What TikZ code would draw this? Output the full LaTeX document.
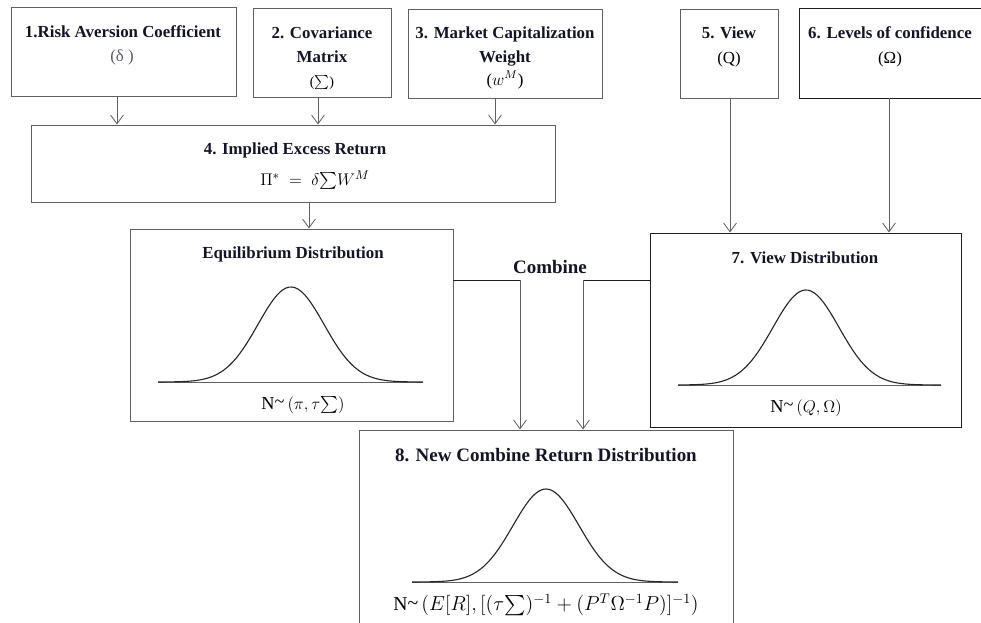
\documentclass[tikz,border=0pt]{standalone}
\usepackage{amsmath}
\usepackage{fontspec}
\setmainfont{Liberation Serif}
\usepackage{xcolor}
\definecolor{bxgray}{RGB}{95,95,95}
\definecolor{bxdark}{RGB}{30,30,30}
\definecolor{ttlnavy}{RGB}{20,20,40}
\definecolor{symgray}{RGB}{90,90,110}
\usepackage{tikz}
\usetikzlibrary{arrows.meta, positioning, calc}

% bell curve: center x, base y, left x, right x, height, sigma
\newcommand{\bellcurve}[6]{%
  \draw[bxgray, line width=0.6pt] (#3,#2) -- (#4,#2);
  \draw[black!85, line width=0.8pt] plot[domain=#3:#4, samples=90, smooth]
        (\x,{#2-#5*exp(-0.5*((\x-#1)/#6)^2)});}

\begin{document}
\begin{tikzpicture}[x=0.025cm, y=-0.025cm,
    box/.style={draw=bxgray, line width=0.7pt, inner sep=0pt},
    ttl/.style={font=\bfseries\fontsize{12}{14}\selectfont, text=ttlnavy, inner sep=0pt},
    sym/.style={font=\fontsize{12}{14}\selectfont, inner sep=0pt},
    arr/.style={-{Straight Barb[length=2.2mm, width=3.2mm]}, bxgray, line width=0.6pt},
    lnk/.style={bxdark, line width=0.7pt}]

\useasboundingbox (0,0) rectangle (981,623);
\clip (0,0) rectangle (981,623);

% --- Inputs ---
\node[box, minimum width=225*0.025cm, minimum height=89*0.025cm] (risk) at (123.5,51.5) {};
\node[ttl] (riskt) at (123,32) {1.Risk Aversion Coefficient};
\node[sym, text=symgray] (riskd) at (122,57) {(δ )};

\node[box, minimum width=138*0.025cm, minimum height=89*0.025cm] (cov) at (322,52.5) {};
\node[ttl] (covt) at (322,33) {2. Covariance};
\node[ttl] (covm) at (322,57) {Matrix};
\node[sym, font=\fontsize{10}{12}\selectfont] (covs) at (322,83) {($\sum$)};

\node[box, minimum width=194*0.025cm, minimum height=89*0.025cm] (mktw) at (505,53.5) {};
\node[ttl] (mktwt) at (505,34) {3. Market Capitalization};
\node[ttl] (mktww) at (505,59) {Weight};
\node[sym] (mktws) at (505,80) {($w^{M}$)};

\node[box, minimum width=98*0.025cm, minimum height=89*0.025cm] (view) at (729,53.5) {};
\node[ttl] (viewt) at (729,33) {5. View};
\node[sym] (viewq) at (729,59) {(Q)};

\node[box, draw=bxdark, minimum width=191*0.025cm, minimum height=90*0.025cm] (conf) at (894.5,53) {};
\node[ttl] (conft) at (890,33) {6. Levels of confidence};
\node[sym] (confo) at (890,59) {(Ω)};

% --- Implied excess return ---
\node[box, minimum width=524*0.025cm, minimum height=77*0.025cm] (impl) at (293,163.5) {};
\node[ttl] (implt) at (295,150) {4. Implied Excess Return};
\node[sym, font=\fontsize{13}{15}\selectfont] (implf) at (315,180) {$\Pi^{*}\;=\;\delta{\textstyle\sum}W^{M}$};

\coordinate (a1) at ($(risk.south)+(-6.5,0)$);
\coordinate (a2) at ($(cov.south)+(-4,0)$);
\coordinate (a3) at ($(mktw.south)+(-10,0)$);
\draw[arr] (a1) -- (a1 |- impl.north);
\draw[arr] (a2) -- (a2 |- impl.north);
\draw[arr] (a3) -- (a3 |- impl.north);

% --- Equilibrium distribution ---
\node[box, minimum width=323*0.025cm, minimum height=192*0.025cm] (equil) at (291.5,325) {};
\node[ttl] (equilt) at (293,254) {Equilibrium Distribution};
\bellcurve{291}{382}{158}{423}{95}{33}
\node[sym, font=\fontsize{13}{15}\selectfont] (equill) at (303,405) {N\raisebox{1pt}{\textasciitilde}\,$(\pi,\tau{\textstyle\sum})$};

\coordinate (a4) at ($(impl.south)+(16,0)$);
\draw[arr] (a4) -- (a4 |- equil.north);

% --- View distribution ---
\node[box, draw=bxdark, minimum width=311*0.025cm, minimum height=194*0.025cm] (vdist) at (805.5,330) {};
\node[ttl] (vdistt) at (805,258) {7. View Distribution};
\bellcurve{806}{385}{678}{941}{95}{33}
\node[sym, font=\fontsize{13}{15}\selectfont] (vdistl) at (806,408) {N\raisebox{1pt}{\textasciitilde}\,$(Q,\Omega)$};

\coordinate (a5) at ($(view.south)+(1,0)$);
\coordinate (a6) at ($(conf.south)+(-5.5,0)$);
\draw[arr] (a5) -- (a5 |- vdist.north);
\draw[arr] (a6) -- (a6 |- vdist.north);

% --- New combined distribution ---
\node[box, minimum width=374*0.025cm, minimum height=210*0.025cm] (newd) at (546,535) {};
\node[ttl, font=\bfseries\fontsize{13.5}{16}\selectfont] (newdt) at (546,455) {8. New Combine Return Distribution};
\bellcurve{546}{582}{412}{678}{93}{33}
\node[sym, font=\fontsize{14}{16}\selectfont] (newdl) at (546,605)
  {N\raisebox{1pt}{\textasciitilde}\,$(E[R],[(\tau{\textstyle\sum})^{-1}+(P^{T}\Omega^{-1}P)]^{-1})$};

% Combine
\node[ttl, font=\bfseries\fontsize{13.5}{16}\selectfont] (comb) at (550,267) {Combine};
\coordinate (e1) at ($(equil.east)+(0,-45)$);
\coordinate (v1) at ($(vdist.west)+(0,-50)$);
\coordinate (n1) at ($(newd.north)+(-26,0)$);
\coordinate (n2) at ($(newd.north)+(37,0)$);
\draw[lnk] (e1) -| (n1 |- e1);
\draw[arr] (n1 |- e1) -- (n1);
\draw[lnk] (v1) -| (n2 |- v1);
\draw[arr] (n2 |- v1) -- (n2);

\end{tikzpicture}
\end{document}
